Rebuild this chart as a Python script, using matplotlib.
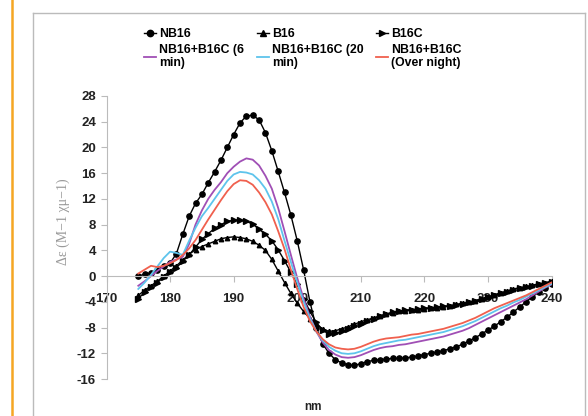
import numpy as np
import matplotlib.pyplot as plt
from matplotlib.lines import Line2D

plt.rcParams['font.family'] = ['Liberation Sans', 'DejaVu Sans']
plt.rcParams['axes.unicode_minus'] = False

# wavelength (nm)
wl = np.arange(175, 241)

nb16 = [0.0, 0.3, 0.5, 1.0, 1.6, 2.0, 3.5, 6.5, 9.3, 11.3, 12.7, 14.5, 16.2, 18.0, 20.0, 22.0,
        23.8, 24.9, 25.0, 24.3, 22.3, 19.5, 16.3, 13.0, 9.5, 5.5, 1.0, -4.0, -8.0, -10.5, -12.0,
        -13.0, -13.5, -13.8, -13.9, -13.6, -13.3, -13.1, -13.0, -12.9, -12.8, -12.8, -12.7, -12.6,
        -12.4, -12.2, -12.0, -11.8, -11.6, -11.3, -11.0, -10.6, -10.1, -9.6, -9.0, -8.4, -7.8,
        -7.1, -6.4, -5.6, -4.8, -4.0, -3.2, -2.5, -1.8, -1.2]
b16 = [-3.0, -2.2, -1.5, -0.8, 0.0, 0.8, 1.6, 2.5, 3.4, 4.1, 4.6, 5.0, 5.4, 5.8, 6.0, 6.1,
       6.0, 5.8, 5.4, 4.8, 4.0, 2.6, 0.8, -1.0, -2.7, -4.2, -5.5, -6.6, -7.5, -8.2, -8.6,
       -8.5, -8.2, -7.9, -7.5, -7.1, -6.8, -6.5, -6.2, -5.9, -5.7, -5.5, -5.4, -5.3, -5.2, -5.1,
       -5.0, -4.9, -4.8, -4.6, -4.4, -4.2, -4.0, -3.8, -3.5, -3.2, -2.9, -2.6, -2.3, -2.0,
       -1.8, -1.6, -1.4, -1.2, -1.0, -0.8]
b16c = [-3.5, -2.5, -1.7, -1.0, -0.2, 0.6, 1.3, 2.3, 3.3, 4.5, 5.7, 6.6, 7.4, 8.0, 8.5, 8.7,
        8.7, 8.5, 8.1, 7.3, 6.5, 5.5, 4.1, 2.4, 0.6, -1.3, -3.5, -5.5, -7.2, -8.4, -9.0,
        -8.9, -8.6, -8.2, -7.8, -7.4, -7.0, -6.6, -6.2, -5.9, -5.6, -5.4, -5.3, -5.2, -5.1, -5.0,
        -4.9, -4.8, -4.7, -4.6, -4.5, -4.3, -4.1, -3.9, -3.6, -3.3, -3.0, -2.7, -2.4, -2.1,
        -1.9, -1.7, -1.5, -1.3, -1.1, -0.9]
mix_6min = [-1.5, -0.8, 0.0, 0.8, 1.5, 2.2, 2.6, 3.0, 5.0, 8.0, 10.2, 12.0, 13.4, 14.6, 16.0, 17.0,
            17.8, 18.3, 18.1, 17.2, 15.6, 13.6, 10.6, 7.0, 3.3, -0.3, -3.5, -6.3, -8.6, -10.3, -11.5,
            -12.2, -12.6, -12.7, -12.6, -12.3, -11.9, -11.5, -11.2, -11.0, -10.9, -10.7, -10.6, -10.4,
            -10.2, -10.0, -9.8, -9.6, -9.4, -9.1, -8.8, -8.5, -8.1, -7.6, -7.1, -6.6, -6.1, -5.6,
            -5.1, -4.6, -4.1, -3.6, -3.0, -2.4, -1.8, -1.3]
mix_20min = [-2.0, -1.0, 0.2, 1.5, 2.8, 3.8, 3.6, 3.3, 5.5, 7.5, 9.3, 10.6, 12.0, 13.4, 14.8, 15.8,
             16.2, 16.1, 15.8, 14.9, 13.6, 11.6, 8.9, 5.5, 2.2, -1.0, -4.0, -6.6, -8.6, -10.0, -11.0,
             -11.6, -12.0, -12.1, -12.0, -11.7, -11.3, -10.9, -10.6, -10.4, -10.2, -10.0, -9.9, -9.7,
             -9.5, -9.3, -9.1, -8.9, -8.7, -8.4, -8.1, -7.8, -7.4, -7.0, -6.5, -6.0, -5.5, -5.0,
             -4.6, -4.1, -3.7, -3.2, -2.7, -2.2, -1.7, -1.2]
mix_night = [0.4, 1.0, 1.6, 1.4, 1.6, 2.0, 2.5, 3.3, 4.3, 5.6, 7.2, 8.8, 10.3, 11.8, 13.2, 14.3,
             14.9, 14.8, 14.2, 13.0, 11.5, 9.6, 7.0, 4.2, 1.0, -2.0, -4.8, -7.0, -8.6, -9.8, -10.6,
             -11.1, -11.3, -11.4, -11.3, -11.0, -10.6, -10.2, -9.9, -9.7, -9.6, -9.5, -9.3, -9.1,
             -9.0, -8.8, -8.6, -8.4, -8.2, -7.9, -7.6, -7.3, -6.9, -6.5, -6.0, -5.5, -5.0, -4.6,
             -4.2, -3.8, -3.4, -3.0, -2.5, -2.0, -1.5, -1.0]

xticks = [170, 180, 190, 200, 210, 220, 230, 240]
yticks = list(range(-16, 29, 4))

fig = plt.figure(figsize=(5.88, 4.16), dpi=100)
ax = fig.add_axes([106.5 / 588, 1 - 379 / 416, (551.5 - 106.5) / 588, 283 / 416])

h1, = ax.plot(wl, nb16, color='black', lw=1, marker='o', ms=3.8, label='NB16')
h2, = ax.plot(wl, b16, color='black', lw=1, marker='^', ms=3.2, label='B16')
h3, = ax.plot(wl, b16c, color='black', lw=1, marker='>', ms=3.8, label='B16C')
h4, = ax.plot(wl, mix_6min, color='#a04fb5', lw=1.3, label='NB16+B16C (6\nmin)')
h5, = ax.plot(wl, mix_20min, color='#5ec4ec', lw=1.3, label='NB16+B16C (20\nmin)')
h6, = ax.plot(wl, mix_night, color='#f0604e', lw=1.3, label='NB16+B16C\n(Over night)')

ax.set_xlim(170, 240)
ax.set_ylim(-16, 28)
ax.set_xticks(xticks)
ax.set_yticks(yticks)
ax.spines['top'].set_visible(False)
ax.spines['right'].set_visible(False)
ax.spines['bottom'].set_position(('data', 0))
ax.spines['bottom'].set_color('#bbbbbb')
ax.spines['left'].set_color('#bbbbbb')
ax.tick_params(colors='#bbbbbb', length=4, width=0.8)
ax.tick_params(axis='x', pad=8)
ax.tick_params(axis='y', pad=3.5)
for lab in ax.get_xticklabels() + ax.get_yticklabels():
    lab.set_fontsize(9.5)
    lab.set_fontweight('bold')
    lab.set_color('#222222')

fig.text(63 / 588, 1 - 222 / 416, 'Δε (M−1 χμ−1)', rotation=90, ha='center', va='center',
         color='#999999', fontsize=10, family=['Liberation Serif', 'DejaVu Serif'])
fig.text(313 / 588, 1 - 407 / 416, 'nm', ha='center', va='center', fontsize=8.5,
         fontweight='bold', color='#222222')

fig.legend(handles=[h1, h4, h2, h5, h3, h6], ncol=3, loc='upper left',
           bbox_to_anchor=(133 / 588, 1 - 17 / 416), frameon=False,
           prop={'size': 8.8, 'weight': 'bold'}, handlelength=1.0, handletextpad=0.25,
           columnspacing=1.0, labelspacing=0.3, markerscale=1.2)

# frame and side stripe
fig.add_artist(Line2D([33 / 588, 585 / 588], [1 - 13 / 416, 1 - 13 / 416], color='#bbbbbb', lw=1))
fig.add_artist(Line2D([33 / 588, 33 / 588], [0, 1 - 13 / 416], color='#bbbbbb', lw=1))
fig.add_artist(Line2D([585 / 588, 585 / 588], [0, 1 - 13 / 416], color='#bbbbbb', lw=1))
fig.add_artist(Line2D([12 / 588, 12 / 588], [0, 1], color='#f5a623', lw=1.8))

fig.savefig('out.png', dpi=100)
